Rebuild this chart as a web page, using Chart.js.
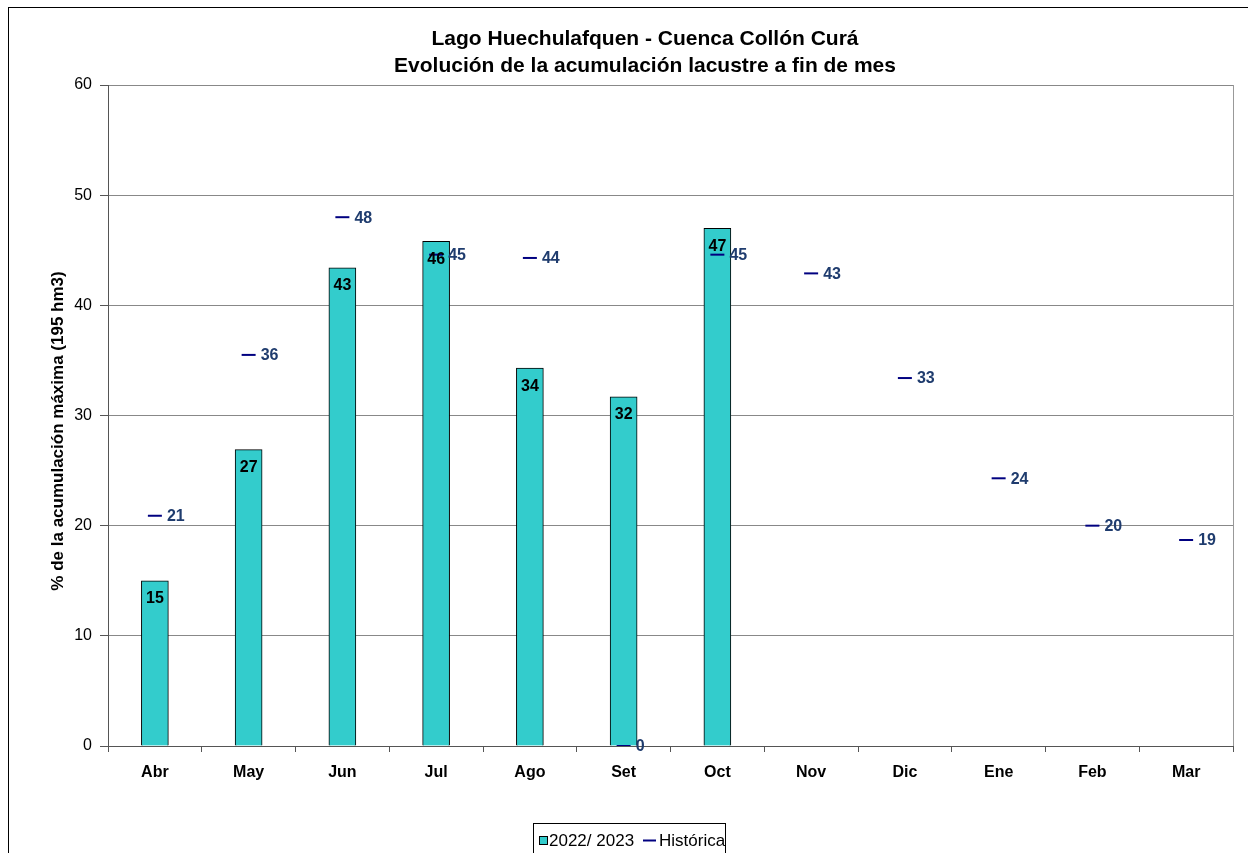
<!DOCTYPE html>
<html>
<head>
<meta charset="utf-8">
<script src="https://cdn.jsdelivr.net/npm/chart.js@4"></script>
<style>
html,body{margin:0;padding:0;background:#fff;}
#wrap{width:1248px;height:853px;position:relative;}
</style>
</head>
<body>
<div id="wrap"><canvas id="c" width="1248" height="853"></canvas></div>
<script>
const categories = ["Abr","May","Jun","Jul","Ago","Set","Oct","Nov","Dic","Ene","Feb","Mar"];
const season = [15.0, 26.9, 43.4, 45.8, 34.3, 31.7, 47.0, null, null, null, null, null];
const seasonLabels = ["15","27","43","46","34","32","47",null,null,null,null,null];
const historic = [20.9, 35.5, 48.0, 44.6, 44.3, 0, 44.6, 42.9, 33.4, 24.3, 20.0, 18.7];
const historicLabels = ["21","36","48","45","44","0","45","43","33","24","20","19"];
const yTicks = [0,10,20,30,40,50,60];
const titleLines = ["Lago Huechulafquen - Cuenca Collón Curá","Evolución de la acumulación lacustre a fin de mes"];
const yTitle = "% de la acumulación máxima (195 hm3)";
const seriesNames = ["2022/ 2023","Histórica"];

const FONT = "'Liberation Sans', Arial, sans-serif";

const decor = {
  id: 'decor',
  beforeDraw(chart){
    const ctx = chart.ctx;
    ctx.save();
    ctx.fillStyle = '#fff';
    ctx.fillRect(0,0,chart.width,chart.height);
    ctx.strokeStyle = '#000';
    ctx.lineWidth = 1;
    ctx.strokeRect(8.5,7.5,1260,900);
    ctx.restore();
  },
  afterDraw(chart){
    const ctx = chart.ctx;
    const a = chart.chartArea;
    ctx.save();
    // right border of plot area
    ctx.strokeStyle = '#999';
    ctx.lineWidth = 1;
    ctx.beginPath();
    ctx.moveTo(Math.round(a.right)+0.5, a.top);
    ctx.lineTo(Math.round(a.right)+0.5, a.bottom);
    ctx.stroke();
    // title
    ctx.fillStyle = '#000';
    ctx.font = "bold 21px " + FONT;
    ctx.textAlign = 'center';
    ctx.textBaseline = 'middle';
    ctx.fillText(titleLines[0], 645, 39);
    ctx.fillText(titleLines[1], 645, 66);
    // y axis title
    ctx.save();
    ctx.translate(58, 431);
    ctx.rotate(-Math.PI/2);
    ctx.font = "bold 17px " + FONT;
    ctx.fillText(yTitle, 0, 0);
    ctx.restore();
    // data labels
    const m0 = chart.getDatasetMeta(0);
    ctx.font = "bold 16px " + FONT;
    m0.data.forEach((el,i)=>{
      if (seasonLabels[i] == null) return;
      ctx.fillStyle = '#000';
      ctx.textAlign = 'center';
      ctx.fillText(seasonLabels[i], el.x, el.y + 18);
    });
    const m1 = chart.getDatasetMeta(1);
    m1.data.forEach((el,i)=>{
      ctx.fillStyle = '#1F3C6E';
      ctx.textAlign = 'left';
      ctx.fillText(historicLabels[i], el.x + 12, el.y + 1);
    });
    // legend
    const lx = 533, ly = 823, lw = 192, lh = 40;
    ctx.strokeStyle = '#000';
    ctx.lineWidth = 1;
    ctx.strokeRect(lx+0.5, ly+0.5, lw, lh);
    ctx.fillStyle = '#33CCCC';
    ctx.fillRect(539.5, 836.5, 8, 8);
    ctx.strokeStyle = '#000';
    ctx.strokeRect(539.5, 836.5, 8, 8);
    ctx.font = "17px " + FONT;
    ctx.fillStyle = '#000';
    ctx.textAlign = 'left';
    ctx.fillText(seriesNames[0], 549, 841);
    ctx.strokeStyle = '#000080';
    ctx.lineWidth = 2;
    ctx.beginPath();
    ctx.moveTo(643, 840.5);
    ctx.lineTo(656, 840.5);
    ctx.stroke();
    ctx.fillText(seriesNames[1], 659, 841);
    ctx.restore();
  }
};

new Chart(document.getElementById('c'), {
  data: {
    labels: categories,
    datasets: [
      {
        type: 'bar',
        label: seriesNames[0],
        data: season,
        backgroundColor: '#33CCCC',
        borderColor: '#000',
        borderWidth: 1,
        barThickness: 27,
        categoryPercentage: 1.0,
        order: 2
      },
      {
        type: 'line',
        label: seriesNames[1],
        data: historic,
        showLine: false,
        pointStyle: 'line',
        pointRadius: 7,
        pointHoverRadius: 7,
        pointBorderWidth: 2,
        borderColor: '#000080',
        backgroundColor: '#000080',
        order: 1
      }
    ]
  },
  options: {
    responsive: false,
    animation: false,
    events: [],
    layout: { padding: { top: 85, right: 15, left: 0, bottom: 0 } },
    plugins: {
      legend: { display: false },
      title: { display: false },
      tooltip: { enabled: false }
    },
    scales: {
      x: {
        type: 'category',
        offset: true,
        grid: { offset: true, drawOnChartArea: false, drawTicks: true, tickLength: 6, color: '#555', tickColor: '#555' },
        border: { color: '#555', width: 1 },
        ticks: { color: '#000', font: { family: FONT, size: 16, weight: 'bold' }, padding: 11, maxRotation: 0 },
        afterFit(s){ s.height = 107; }
      },
      y: {
        min: 0, max: 60,
        afterBuildTicks(s){ s.ticks = yTicks.map(v=>({value:v})); },
        ticks: { color: '#000', font: { family: FONT, size: 16 }, padding: 8 },
        grid: {
          color: (c)=> c.tick && c.tick.value === 0 ? '#555' : '#888',
          tickColor: '#555',
          tickLength: 8,
          drawTicks: true
        },
        border: { color: '#555', width: 1 },
        title: { display: false },
        afterFit(s){ s.width = 108; }
      }
    }
  },
  plugins: [decor]
});
</script>
</body>
</html>
